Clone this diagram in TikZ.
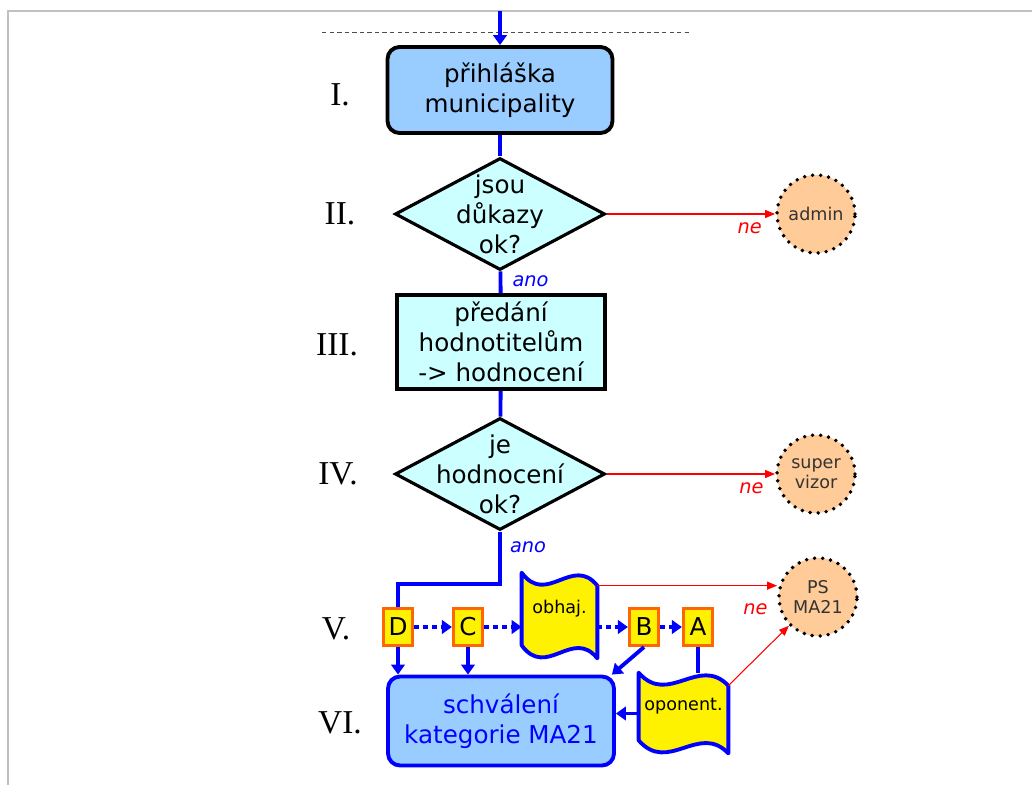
\documentclass[tikz,border=0pt]{standalone}
\usepackage{fontspec}
\setmainfont{DejaVu Sans}
\newfontfamily\romfont{Liberation Serif}
\usetikzlibrary{shapes.geometric,arrows.meta,calc,backgrounds}

\definecolor{boxblue}{HTML}{99CCFF}
\definecolor{boxcyan}{HTML}{CCFFFF}
\definecolor{peach}{HTML}{FFCC99}
\definecolor{evalorange}{HTML}{FF6600}
\definecolor{framegray}{HTML}{C0C0C0}

\newcommand{\bigtxt}{\fontsize{14}{17}\selectfont}
\newcommand{\smalltxt}{\fontsize{10}{11.5}\selectfont}

% punched tape outline round a node, corner coordinate <name>-tr
\newcommand{\tapeoutline}[1]{%
  \begin{scope}[on background layer]
  \draw[tapeline] (#1.north west)
    .. controls ($(#1.north west)!0.33!(#1.north east)+(0,34)$)
    and ($(#1.north west)!0.67!(#1.north east)+(0,-18)$) .. ($(#1.north east)+(0,13)$)
    -- ($(#1.south east)+(0,13)$)
    .. controls ($(#1.south west)!0.67!(#1.south east)+(0,-18)$)
    and ($(#1.south west)!0.33!(#1.south east)+(0,34)$) .. (#1.south west) -- cycle;
  \end{scope}
  \coordinate (#1-tr) at ($(#1.north east)+(0,13)$);}

\begin{document}
\begin{tikzpicture}[x=0.02cm,y=-0.02cm]
    \tikzstyle{every node}+=[inner sep=0pt]
    \tikzstyle{roundbox}=[rectangle, rounded corners=0.24cm, draw=black, line width=2.2pt, fill=boxblue, minimum width=4.5cm, minimum height=1.72cm, align=center, font=\bigtxt]
    \tikzstyle{plainbox}=[rectangle, draw=black, line width=2.2pt, fill=boxcyan, minimum width=4.16cm, minimum height=1.88cm, align=center, font=\bigtxt]
    \tikzstyle{decide}=[diamond, draw=black, line width=1.8pt, fill=boxcyan, minimum width=4.2cm, minimum height=2.24cm]
    \tikzstyle{decidetxt}=[align=center, font=\bigtxt]
    \tikzstyle{outcome}=[circle, fill=peach, draw=black, line width=2.2pt, dash pattern=on 0pt off 4.6pt, line cap=round, minimum size=1.56cm, align=center, font=\smalltxt, text=black!80]
    \tikzstyle{evalbox}=[rectangle, draw=evalorange, line width=1.8pt, fill=yellow, minimum width=0.58cm, minimum height=0.74cm, font=\bigtxt]
    \tikzstyle{tapetxt}=[rectangle, minimum width=1.5cm, minimum height=1.44cm, font=\smalltxt]
    \tikzstyle{tapeline}=[draw=blue, line width=2.2pt, fill=yellow, line join=round]
    \tikzstyle{flow}=[draw=blue, line width=2.2pt]
    \tikzstyle{flowarrow}=[flow, -{Triangle[length=0.2cm,width=0.27cm]}]
    \tikzstyle{dotflow}=[flowarrow, dash pattern=on 0.1cm off 0.08cm]
    \tikzstyle{reject}=[draw=red, line width=0.6pt, -{Triangle[length=0.2cm,width=0.16cm]}]
    \tikzstyle{notxt}=[text=red, font=\fontsize{11}{13}\selectfont\itshape]
    \tikzstyle{anotxt}=[text=blue, font=\fontsize{11}{13}\selectfont\itshape]
    \tikzstyle{roman}=[font=\romfont\fontsize{19}{22}\selectfont]
    \useasboundingbox (0,0) rectangle (1032,785);
    \begin{scope}[on background layer]
      \fill[white] (0,0) rectangle (1032,785);
    \end{scope}
    \draw[framegray, line width=1.2pt] (8,785) -- (8,11) -- (1032,11);
    \draw[black!70, line width=0.5pt, dash pattern=on 2.5pt off 1.8pt] (322,32) coordinate (delL) -- (690,32) coordinate (delR);
    \coordinate (vstup) at (500,11);

    \node[roundbox] (prihl) at (500,90) {přihláška\\municipality};
    \node[decide] (dukazy) at (500,214) {};
    \node[decidetxt] (dukazytxt) at (dukazy) {jsou\\důkazy\\ok?};
    \node[plainbox] (predani) at (501,342) {předání\\hodnotitelům\\-> hodnocení};
    \node[decide] (hodnok) at (500,474) {};
    \node[decidetxt] (hodnoktxt) at (hodnok) {je\\hodnocení\\ok?};
    \node[roundbox, draw=blue, text=blue, minimum width=4.52cm, minimum height=1.78cm] (schvaleni) at (501,721) {schválení\\kategorie MA21};

    \node[outcome] (admin) at (816,214) {admin};
    \node[outcome] (supervizor) at (816,474) {super\\vizor};
    \node[outcome] (psma) at (818,597) {PS\\MA21};

    \node[evalbox] (evD) at (398,627) {D};
    \node[evalbox] (evC) at (468,627) {C};
    \node[evalbox] (evB) at (644,627) {B};
    \node[evalbox] (evA) at (698,627) {A};
    \node[tapetxt] (obhaj) at (559.5,609) {obhaj.};
    \node[tapetxt, minimum width=1.78cm, minimum height=1.34cm] (oponent) at (683.5,706.5) {oponent.};
    \tapeoutline{obhaj}
    \tapeoutline{oponent}

    \node[roman] (r1) at (340,95) {I.};
    \node[roman] (r2) at (340,214) {II.};
    \node[roman] (r3) at (337,345) {III.};
    \node[roman] (r4) at (338,474) {IV.};
    \node[roman] (r5) at (336,629) {V.};
    \node[roman] (r6) at (340,723) {VI.};

    \draw[flowarrow] (vstup) -- (prihl);
    \draw[flow] (prihl) -- (dukazy);
    \draw[flow] (dukazy) -- (predani) node[anotxt, pos=0.44, xshift=0.6cm] {ano};
    \draw[flow] (predani) -- (hodnok);
    \draw[flow] (hodnok.south) -- ++(0,52) node[anotxt, pos=0.31, xshift=0.56cm] {ano} -| (evD.north);
    \draw[reject] (dukazy.east) -- (admin) node[notxt, pos=0.85, yshift=-0.28cm] {ne};
    \draw[reject] (hodnok.east) -- (supervizor) node[notxt, pos=0.86, yshift=-0.28cm] {ne};

    \draw[dotflow] (evD) -- (evC);
    \draw[dotflow] (evC.east) -- (evC.east -| obhaj.west);
    \draw[dotflow] (evB.west -| obhaj.east) -- (evB.west);
    \draw[dotflow] (evB) -- (evA);
    \draw[flowarrow] (evD) -- (evD |- schvaleni.north);
    \draw[flowarrow] (evC) -- (evC |- schvaleni.north);
    \draw[flowarrow] (evB.south) -- ($(schvaleni.north east)+(-4,0)$);
    \draw[flow] (evA) -- (evA |- oponent.north);
    \coordinate (opvlevo) at ($(oponent.west)+(0,7)$);
    \draw[flowarrow] (opvlevo) -- (opvlevo -| schvaleni.east);
    \draw[reject] (obhaj-tr) -- (obhaj-tr -| psma.west) node[notxt, pos=0.88, yshift=-0.48cm] {ne};
    \draw[reject] (oponent-tr) -- (psma);
\end{tikzpicture}
\end{document}
